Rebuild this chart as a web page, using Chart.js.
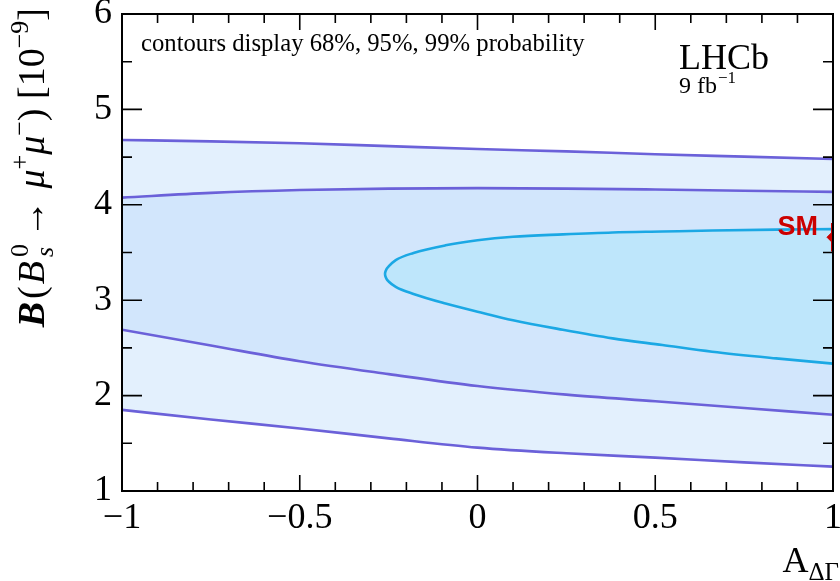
<!DOCTYPE html>
<html>
<head>
<meta charset="utf-8">
<script src="https://cdn.jsdelivr.net/npm/chart.js@4.4.1/dist/chart.umd.min.js"></script>
<style>
  html, body { margin: 0; padding: 0; background: #fff; }
  canvas { display: block; }
</style>
</head>
<body>
<canvas id="c" width="840" height="581"></canvas>
<script>
// Asymmetry A_DeltaGamma (x) and branching fraction in units of 1e-9 (y)
const xTicks = [-1, -0.5, 0, 0.5, 1];
const xTickLabels = ['\u22121', '\u22120.5', '0', '0.5', '1'];
const yTicks = [1, 2, 3, 4, 5, 6];
const yTickLabels = ['1', '2', '3', '4', '5', '6'];

// 99% and 95% contour boundaries, sampled along A_DeltaGamma
const xOuter = [-1, -0.75, -0.5, -0.25, 0, 0.25, 0.5, 0.75, 1];
const c99Upper = [4.68, 4.665, 4.645, 4.615, 4.585, 4.56, 4.53, 4.505, 4.48];
const c99Lower = [1.85, 1.75, 1.655, 1.552, 1.455, 1.395, 1.35, 1.30, 1.255];
const c95Upper = [4.075, 4.125, 4.155, 4.17, 4.175, 4.17, 4.16, 4.148, 4.135];
const c95Lower = [2.69, 2.525, 2.36, 2.225, 2.10, 2.01, 1.94, 1.87, 1.80];

// 68% contour: upper and lower halves meeting at the left tip
const x68 = [-0.2605, -0.259, -0.256, -0.25, -0.23, -0.18, -0.09, 0, 0.1, 0.24, 0.38, 0.52, 0.66, 0.84, 1];
const c68Upper = [3.275, 3.30, 3.326, 3.354, 3.42, 3.495, 3.575, 3.628, 3.665, 3.69, 3.71, 3.72, 3.73, 3.74, 3.745];
const c68Lower = [3.275, 3.25, 3.224, 3.196, 3.14, 3.065, 2.965, 2.88, 2.79, 2.69, 2.60, 2.53, 2.46, 2.39, 2.335];

// Standard Model prediction
const smX = 1;
const smValue = 3.66;
const smError = 0.15;

const SERIF = '"Liberation Serif", "Times New Roman", Times, serif';
const SANS = '"Liberation Sans", Arial, Helvetica, sans-serif';
const font = (style, size, fam) => `${style} ${size}px ${fam || SERIF}`;

const pts = (xs, ys) => xs.map((x, i) => ({ x: x, y: ys[i] }));

const FILL99 = '#e3f0fd';
const FILL95 = '#d2e6fc';
const FILL68 = '#bee6fb';
const LINE_OUT = '#6b61d9';
const LINE_68 = '#1ba8e4';
const SM_RED = '#cc0000';

function curve(data, color, fill, bg) {
  return {
    data: data,
    borderColor: color,
    borderWidth: 2.6,
    backgroundColor: bg || 'transparent',
    fill: fill,
    pointRadius: 0,
    cubicInterpolationMode: 'monotone'
  };
}

// draws a run of text pieces; each group is stacked (sub/superscript) and advances by its widest piece
function groupWidth(ctx, g) {
  let w = 0;
  for (const p of g) {
    ctx.font = p.font;
    w = Math.max(w, ctx.measureText(p.t).width + (p.dx || 0) + (p.gap || 0));
  }
  return w;
}
function drawRich(ctx, groups) {
  let x = 0;
  for (const g of groups) {
    const w = groupWidth(ctx, g);
    for (const p of g) {
      ctx.font = p.font;
      ctx.fillText(p.t, x + (p.dx || 0), p.dy || 0);
    }
    x += w;
  }
  return x;
}
function measureRich(ctx, groups) {
  let x = 0;
  for (const g of groups) x += groupWidth(ctx, g);
  return x;
}

const yTitle = [
  [{ t: 'B', font: font('italic bold', 38), gap: 3 }],
  [{ t: '(', font: font('normal', 38), gap: 2 }],
  [{ t: 'B', font: font('italic', 38), gap: 3 }],
  [{ t: 's', font: font('italic', 26), dy: 9, dx: 1, gap: 6 }, { t: '0', font: font('normal', 26), dy: -16, dx: 1, gap: 6 }],
  [{ t: '\u2192', font: font('normal', 38), gap: 2 }],
  [{ t: ' ', font: font('normal', 38) }],
  [{ t: '\u03bc', font: font('italic', 38) }],
  [{ t: '+', font: font('normal', 26), dy: -16 }],
  [{ t: '\u03bc', font: font('italic', 38) }],
  [{ t: '\u2212', font: font('normal', 26), dy: -16 }],
  [{ t: ')', font: font('normal', 38) }],
  [{ t: ' [10', font: font('normal', 38) }],
  [{ t: '\u22129', font: font('normal', 26), dy: -16 }],
  [{ t: ']', font: font('normal', 38) }]
];
const xTitle = [
  [{ t: 'A', font: font('normal', 36) }],
  [{ t: '\u0394\u0393', font: font('normal', 25), dy: 8 }]
];
const lumiText = [
  [{ t: '9 fb', font: font('normal', 24) }],
  [{ t: '\u22121', font: font('normal', 17), dy: -10, dx: 1 }]
];

const framePlugin = {
  id: 'frameAndText',
  afterDraw(chart) {
    const ctx = chart.ctx;
    const a = chart.chartArea;
    const xs = chart.scales.x, ys = chart.scales.y;
    ctx.save();
    ctx.strokeStyle = '#000';
    ctx.lineWidth = 1.6;
    ctx.beginPath();
    // x ticks every 0.1 on bottom and top edges
    for (let k = -10; k <= 10; k++) {
      const v = k / 10;
      const px = xs.getPixelForValue(v);
      const len = (k % 5 === 0) ? 16 : 9;
      ctx.moveTo(px, a.bottom); ctx.lineTo(px, a.bottom - len);
      ctx.moveTo(px, a.top); ctx.lineTo(px, a.top + len);
    }
    // y ticks every 0.5 on left and right edges
    for (let k = 2; k <= 12; k++) {
      const v = k / 2;
      const py = ys.getPixelForValue(v);
      const len = (k % 2 === 0) ? 20 : 10;
      ctx.moveTo(a.left, py); ctx.lineTo(a.left + len, py);
      ctx.moveTo(a.right, py); ctx.lineTo(a.right - len, py);
    }
    ctx.stroke();
    ctx.lineWidth = 2;
    ctx.strokeRect(a.left, a.top, a.right - a.left, a.bottom - a.top);

    ctx.fillStyle = '#000';
    ctx.textBaseline = 'alphabetic';
    ctx.textAlign = 'left';

    ctx.font = font('normal', 24.7);
    ctx.fillText('contours display 68%, 95%, 99% probability', 141, 51);

    ctx.font = font('normal', 36);
    ctx.fillText('LHCb', 679, 69);
    ctx.save();
    ctx.translate(679, 93);
    drawRich(ctx, lumiText);
    ctx.restore();

    // x-axis title, right-aligned at the axis end
    const wx = measureRich(ctx, xTitle);
    ctx.save();
    ctx.translate(839 - wx, 572);
    drawRich(ctx, xTitle);
    ctx.restore();

    // y-axis title, rotated, ending near the top of the axis
    const wy = measureRich(ctx, yTitle);
    ctx.save();
    ctx.translate(44, 8 + wy);
    ctx.rotate(-Math.PI / 2);
    drawRich(ctx, yTitle);
    ctx.restore();

    // SM label next to the prediction marker
    ctx.fillStyle = SM_RED;
    ctx.font = font('bold', 27, SANS);
    ctx.textAlign = 'right';
    ctx.textBaseline = 'middle';
    ctx.fillText('SM', xs.getPixelForValue(smX) - 15, ys.getPixelForValue(smValue) - 10);
    ctx.restore();
  }
};

new Chart(document.getElementById('c'), {
  type: 'line',
  data: {
    datasets: [
      { data: [{ x: smX, y: smValue - smError }, { x: smX, y: smValue + smError }], borderColor: SM_RED, borderWidth: 4, pointRadius: 0, fill: false },
      { data: [{ x: smX, y: smValue }], showLine: false, pointStyle: 'rectRot', pointRadius: 6, pointBackgroundColor: SM_RED, pointBorderColor: SM_RED, fill: false },
      curve(pts(x68, c68Upper), LINE_68, '+1', FILL68),
      curve(pts(x68, c68Lower), LINE_68, false),
      curve(pts(xOuter, c95Upper), LINE_OUT, '+1', FILL95),
      curve(pts(xOuter, c95Lower), LINE_OUT, false),
      curve(pts(xOuter, c99Upper), LINE_OUT, '+1', FILL99),
      curve(pts(xOuter, c99Lower), LINE_OUT, false)
    ]
  },
  options: {
    responsive: false,
    animation: false,
    events: [],
    layout: { padding: { top: 14, right: 4, left: 0, bottom: 0 } },
    plugins: {
      legend: { display: false },
      tooltip: { enabled: false },
      filler: { drawTime: 'beforeDatasetsDraw', propagate: false }
    },
    scales: {
      x: {
        type: 'linear', min: -1, max: 1,
        grid: { display: false, drawTicks: false },
        border: { display: false },
        afterBuildTicks(s) { s.ticks = xTicks.map(v => ({ value: v })); },
        ticks: {
          color: '#000', font: { family: SERIF, size: 36 }, padding: 6,
          maxRotation: 0, autoSkip: false,
          callback: (v) => xTickLabels[xTicks.indexOf(v)]
        },
        afterFit(s) { s.height = 90; s.paddingLeft = 0; s.paddingRight = 0; }
      },
      y: {
        type: 'linear', min: 1, max: 6,
        grid: { display: false, drawTicks: false },
        border: { display: false },
        afterBuildTicks(s) { s.ticks = yTicks.map(v => ({ value: v })); },
        ticks: {
          color: '#000', font: { family: SERIF, size: 36 }, padding: 10,
          autoSkip: false,
          callback: (v) => yTickLabels[yTicks.indexOf(v)]
        },
        afterFit(s) { s.width = 122; s.paddingTop = 0; s.paddingBottom = 0; }
      }
    }
  },
  plugins: [framePlugin]
});
</script>
</body>
</html>
